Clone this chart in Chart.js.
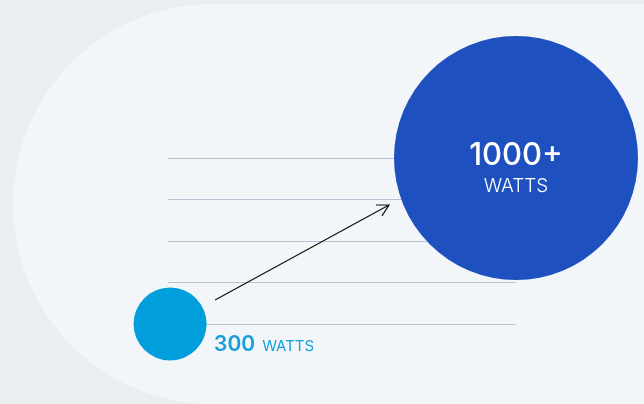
<!DOCTYPE html>
<html>
<head>
<meta charset="utf-8">
<script src="https://cdn.jsdelivr.net/npm/chart.js@4.4.1/dist/chart.umd.min.js"></script>
<style>
  html, body { margin: 0; padding: 0; background: #e9eef1; }
  #wrap { width: 644px; height: 404px; }
</style>
</head>
<body>
<div id="wrap"><canvas id="powerChart" width="644" height="404"></canvas></div>
<script>
// chart data
const categories = ['Before', 'After'];
const watts = [300, 1000];
const valueLabels = ['300', '1000+'];
const unitLabel = 'WATTS';
const yTicks = [300, 475, 650, 825, 1000];

const smallColor = '#009fdb';
const bigColor = '#1e50bf';

// light pill shape behind everything
const backdrop = {
    id: 'backdrop',
    beforeDraw(chart) {
        const ctx = chart.ctx;
        ctx.save();
        ctx.fillStyle = '#e9eef1';
        ctx.fillRect(0, 0, chart.width, chart.height);
        ctx.fillStyle = '#f3f6f8';
        ctx.beginPath();
        ctx.roundRect(13, 4, 900, 400, 200);
        ctx.fill();
        ctx.restore();
    }
};

// arrow + labels, placed from the points' pixel positions
const overlay = {
    id: 'overlay',
    afterDatasetsDraw(chart) {
        const ctx = chart.ctx;
        const a = chart.getDatasetMeta(0).data[0];
        const b = chart.getDatasetMeta(1).data[0];

        // arrow
        const x1 = a.x + 45, y1 = a.y - 24;
        const x2 = b.x - 127, y2 = b.y + 47;
        const ang = Math.atan2(y2 - y1, x2 - x1);
        ctx.save();
        ctx.strokeStyle = '#111';
        ctx.lineWidth = 1.2;
        ctx.beginPath();
        ctx.moveTo(x1, y1);
        ctx.lineTo(x2, y2);
        ctx.moveTo(x2 - 13 * Math.cos(ang - 0.5), y2 - 13 * Math.sin(ang - 0.5));
        ctx.lineTo(x2, y2);
        ctx.lineTo(x2 - 13 * Math.cos(ang + 0.5), y2 - 13 * Math.sin(ang + 0.5));
        ctx.stroke();

        // small label
        ctx.textBaseline = 'alphabetic';
        ctx.textAlign = 'left';
        ctx.fillStyle = '#159fdb';
        ctx.font = '600 21px Inter';
        ctx.fillText(valueLabels[0], a.x + 44, a.y + 27);
        const w = ctx.measureText(valueLabels[0]).width;
        ctx.font = '400 15px Inter';
        ctx.fillText(unitLabel, a.x + 44 + w + 7, a.y + 27);

        // big label
        ctx.textAlign = 'center';
        ctx.fillStyle = '#ffffff';
        ctx.font = '500 31px Inter';
        ctx.fillText(valueLabels[1], b.x, b.y + 7);
        ctx.font = '300 19px Inter';
        ctx.fillText(unitLabel, b.x, b.y + 34);
        ctx.restore();
    }
};

const ctx = document.getElementById('powerChart');
new Chart(ctx, {
    type: 'scatter',
    data: {
        datasets: categories.map((c, i) => ({
            label: c,
            data: [{ x: i, y: watts[i] }],
            backgroundColor: i === 0 ? smallColor : bigColor,
            borderWidth: 0,
            pointRadius: i === 0 ? 36.5 : 122,
            pointHoverRadius: i === 0 ? 36.5 : 122,
            clip: false
        }))
    },
    options: {
        responsive: false,
        animation: false,
        events: [],
        layout: { autoPadding: false, padding: { top: 158, left: 168, right: 128, bottom: 80 } },
        plugins: { legend: { display: false }, tooltip: { enabled: false } },
        scales: {
            x: { type: 'linear', min: -0.006, max: 1, display: false },
            y: {
                type: 'linear',
                min: yTicks[0],
                max: yTicks[yTicks.length - 1],
                afterBuildTicks: (s) => { s.ticks = yTicks.map(v => ({ value: v })); },
                ticks: { display: false },
                border: { display: false },
                grid: { color: '#b8c4d3', lineWidth: 1, drawTicks: false }
            }
        }
    },
    plugins: [backdrop, overlay]
});
</script>
</body>
</html>
